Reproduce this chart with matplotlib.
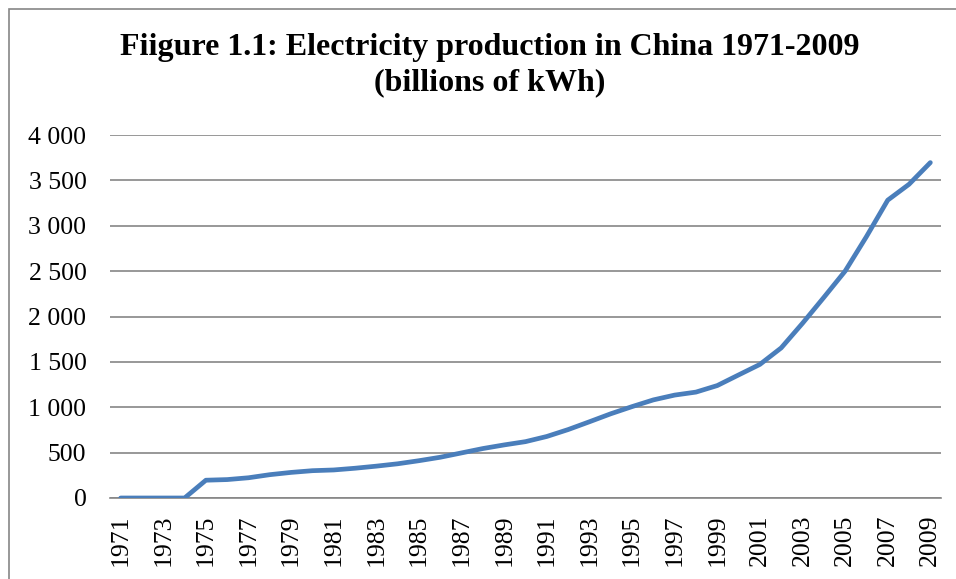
import matplotlib
matplotlib.use("Agg")
import matplotlib.pyplot as plt
import matplotlib.patches as mpatches
from matplotlib.ticker import FuncFormatter, MultipleLocator

# Electricity production in China, billions of kWh
years = list(range(1971, 2010))
production = [0, 0, 0, 0, 196, 203, 223, 257, 282, 301,
              309, 328, 351, 377, 411, 449, 497, 545, 585, 621,
              678, 754, 840, 928, 1007, 1081, 1134, 1167, 1239, 1356,
              1472, 1654, 1925, 2210, 2500, 2880, 3282, 3457, 3696]

plt.rcParams['font.family'] = ['Liberation Serif', 'DejaVu Serif']

fig = plt.figure(figsize=(9.56, 5.79), dpi=100)
ax = fig.add_axes([110/956, 1 - 498/579, (941 - 110)/956, (498 - 135)/579])

x = list(range(len(years)))
ax.plot(x, production, color='#4a7ebb', lw=3.4, solid_capstyle='round', solid_joinstyle='round', zorder=3)

ax.set_xlim(-0.5, len(years) - 0.5)
ax.set_ylim(0, 4000)
ax.yaxis.set_major_locator(MultipleLocator(500))
ax.yaxis.set_major_formatter(FuncFormatter(lambda v, p: f"{int(v):,}".replace(',', ' ')))
ax.grid(axis='y', color='#868686', lw=1.2, zorder=1)
ax.set_xticks(x[::2])
ax.set_xticklabels([str(y) for y in years[::2]], rotation=90, fontsize=18.5)
ax.tick_params(axis='y', labelsize=18.5, length=0, pad=17)
ax.tick_params(axis='x', length=0, pad=12)
for s in ['top', 'right', 'left']:
    ax.spines[s].set_visible(False)
ax.spines['bottom'].set_color('#868686')
ax.spines['bottom'].set_linewidth(1.2)

fig.text(490/956, 1 - 33/579, 'Fiigure 1.1: Electricity production in China 1971-2009\n(billions of kWh)',
         ha='center', va='top', fontsize=23, fontweight='bold', linespacing=1.3)

# chart frame, cut off at the right and bottom
fig.add_artist(mpatches.Rectangle((9/956, -0.2), 1.2, 1.2 - 9/579, transform=fig.transFigure,
                                  fill=False, edgecolor='#868686', lw=1.2))

fig.savefig('out.png', dpi=100)
